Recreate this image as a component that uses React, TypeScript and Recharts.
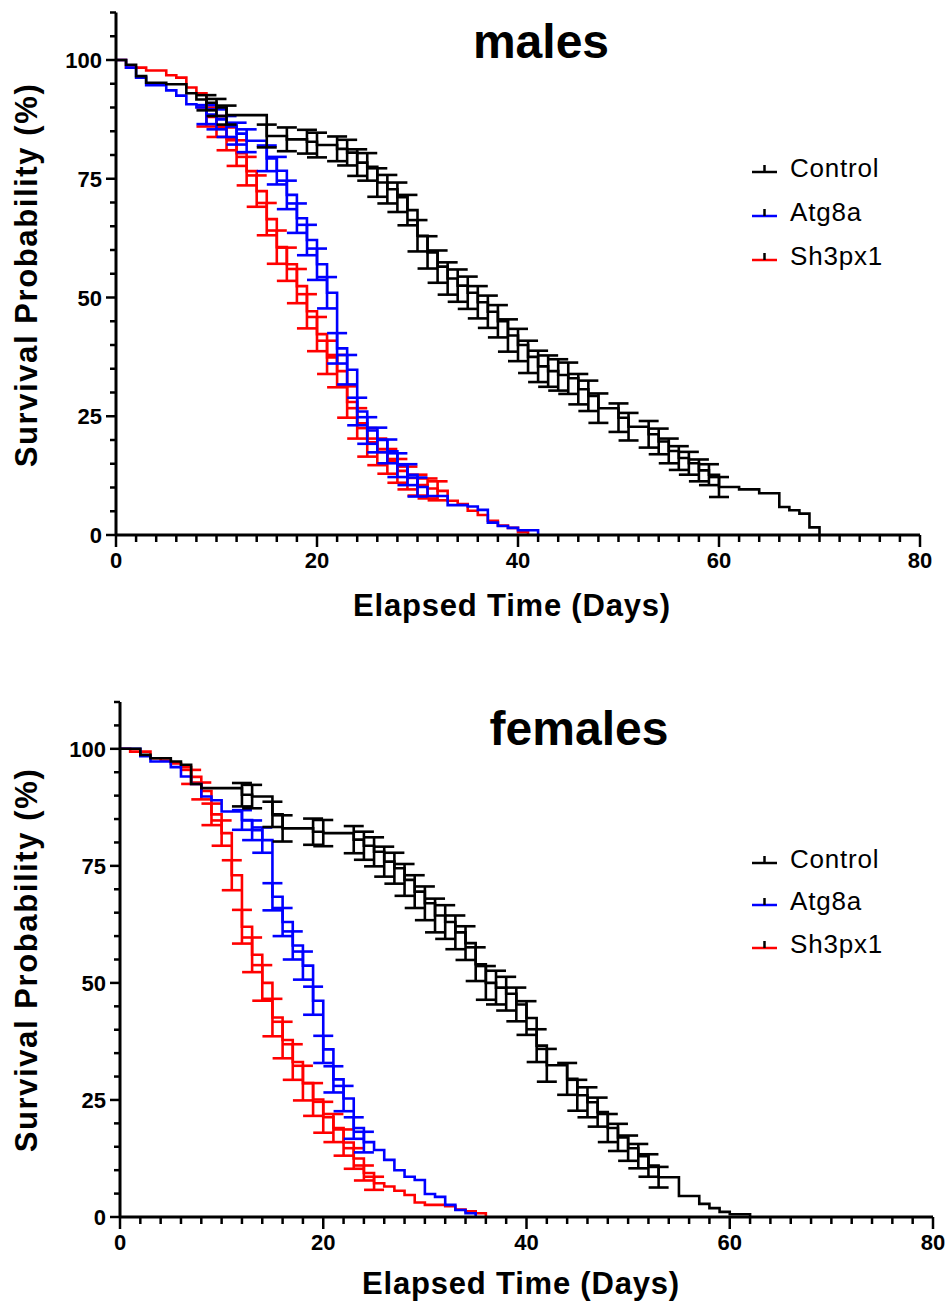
import React from 'react';
import { LineChart, Line, XAxis, YAxis, ErrorBar } from 'recharts';

const seriesNames = ['Control', 'Atg8a', 'Sh3px1'];
const seriesColors = ['#000000', '#0000ff', '#ff0000'];

const xTicks = [0, 2, 4, 6, 8, 10, 12, 14, 16, 18, 20, 22, 24, 26, 28, 30, 32, 34, 36, 38, 40, 42, 44, 46, 48, 50, 52, 54, 56, 58, 60, 62, 64, 66, 68, 70, 72, 74, 76, 78, 80];
const xMajor = [0, 20, 40, 60, 80];
const yTicks = [0, 5, 10, 15, 20, 25, 30, 35, 40, 45, 50, 55, 60, 65, 70, 75, 80, 85, 90, 95, 100, 105, 110];
const yMajor = [0, 25, 50, 75, 100];

// males
const maleControlDays = [0, 1, 2, 3, 5, 7, 8, 9, 10, 11, 15, 17, 19, 20, 22, 23, 24, 25, 26, 27, 28, 29, 30, 31, 32, 33, 34, 35, 36, 37, 38, 39, 40, 41, 42, 43, 44, 45, 46, 47, 48, 50, 51, 53, 54, 55, 56, 57, 58, 59, 60, 62, 64, 66, 67, 68, 69, 70];
const maleControlSurv = [100, 99, 96.6, 95.2, 94.9, 93, 91.7, 91, 90, 88.4, 84, 83.3, 82.8, 82.1, 81.3, 80.5, 78.4, 77.5, 74.2, 72.8, 71.1, 68.4, 63, 59.5, 56.5, 54, 52.5, 51, 49, 47, 45, 42, 40, 37.5, 35.5, 34.5, 33.7, 33, 30.7, 29.3, 26.7, 24.7, 22.8, 21.2, 19.7, 17.7, 16.2, 15.1, 13.6, 12.7, 10.1, 9.6, 8.8, 5.9, 5.2, 4.5, 1.6, 0];
const maleControlSem = [null, null, null, null, null, null, null, 1.6, 1.8, 2.0, 2.4, 2.5, 2.5, 2.6, 2.6, 2.7, 2.8, 2.9, 3.0, 3.0, 3.1, 3.2, 3.3, 3.4, 3.4, 3.4, 3.4, 3.4, 3.4, 3.4, 3.4, 3.4, 3.4, 3.4, 3.3, 3.3, 3.3, 3.3, 3.2, 3.2, 3.1, 3.0, 2.9, 2.8, 2.7, 2.6, 2.5, 2.4, 2.3, 2.2, 2.1, null, null, null, null, null, null, null];

const maleAtg8aDays = [0, 1, 2, 3, 5, 6, 7, 8, 9, 10, 11, 12, 13, 15, 16, 17, 18, 19, 20, 21, 22, 23, 24, 25, 26, 27, 28, 29, 30, 31, 33, 35, 36, 37, 38, 39, 40, 42];
const maleAtg8aSurv = [100, 98.4, 96.3, 94.7, 93.6, 92.5, 90.7, 90, 88.5, 87.5, 86, 84.5, 83, 79.3, 76.7, 71.6, 66.7, 62.1, 57, 51, 39.3, 34.8, 26, 22, 20, 17.6, 14.7, 12.7, 10.1, 8.2, 6.3, 6.0, 5.3, 2.6, 1.9, 1.5, 1.0, 0];
const maleAtg8aSem = [null, null, null, null, null, null, null, null, 2.0, 2.1, 2.2, 2.3, 2.4, 2.7, 2.9, 3.0, 3.1, 3.2, 3.3, 3.3, 3.2, 3.1, 2.9, 2.8, 2.6, 2.5, 2.5, 2.2, 2.0, null, null, null, null, null, null, null, null, null];

const maleSh3px1Days = [0, 1, 3, 5, 6, 7, 8, 9, 10, 11, 12, 13, 14, 15, 16, 17, 18, 19, 20, 21, 22, 23, 24, 25, 26, 27, 28, 29, 30, 31, 32, 33, 34, 35, 36, 37, 38, 39, 40, 41];
const maleSh3px1Surv = [100, 98.4, 97.8, 96.8, 96.3, 94.2, 93, 88, 86, 83.4, 80.4, 76.6, 72.4, 66.5, 60.6, 57, 52.4, 47.1, 42.3, 37.4, 34.5, 28, 23.5, 19.5, 17.5, 15.5, 13.5, 12, 10.5, 9.8, 9.3, 7.2, 6.5, 5.1, 4.2, 3.0, 2.0, 1.5, 0.6, 0];
const maleSh3px1Sem = [null, null, null, null, null, null, null, 2.0, 2.2, 2.4, 2.7, 3.0, 3.3, 3.4, 3.5, 3.5, 3.6, 3.6, 3.6, 3.5, 3.4, 3.3, 3.2, 3.0, 2.8, 2.6, 2.5, 2.4, 2.2, 2.1, 2.0, null, null, null, null, null, null, null, null, null];

// females
const femaleControlDays = [0, 2, 3, 5, 6, 7, 8, 12, 13, 15, 16, 19, 20, 23, 24, 25, 26, 27, 28, 29, 30, 31, 32, 33, 34, 35, 36, 37, 38, 39, 40, 41, 42, 44, 45, 46, 47, 48, 49, 50, 51, 52, 53, 55, 57, 58, 59, 60, 62];
const femaleControlSurv = [100, 98.7, 98, 97.3, 96.6, 92.5, 91.6, 90.2, 89.8, 86, 83, 82.3, 82, 80.6, 79.3, 78, 75.9, 74.5, 72, 69.5, 67, 64.4, 63, 60.8, 58.5, 54, 50, 49, 47.7, 45.4, 42.5, 36.6, 32.4, 29.5, 26, 24.5, 22.4, 19, 17, 14.7, 13, 11, 8.5, 4.5, 2.8, 1.9, 1.1, 0.6, 0];
const femaleControlSem = [null, null, null, null, null, null, null, 2.5, 2.5, 2.7, 2.8, 2.8, 2.8, 2.9, 3.0, 3.1, 3.2, 3.3, 3.4, 3.5, 3.6, 3.6, 3.6, 3.6, 3.6, 3.6, 3.6, 3.6, 3.6, 3.6, 3.6, 3.5, 3.5, 3.4, 3.3, 3.2, 3.1, 3.0, 2.9, 2.7, 2.6, 2.4, 2.2, null, null, null, null, null, null];

const femaleAtg8aDays = [0, 2, 3, 5, 6, 7, 8, 9, 10, 12, 13, 14, 15, 16, 17, 18, 19, 20, 21, 22, 23, 24, 25, 26, 27, 28, 29, 30, 31, 32, 33, 34, 35];
const femaleAtg8aSurv = [100, 98.4, 97.3, 96.1, 94.1, 92.5, 89.8, 89, 86.6, 84.8, 82.6, 80.5, 68.4, 63, 58, 53.7, 46.2, 35.8, 29.4, 25.3, 19, 16, 14.3, 12.2, 10, 8.6, 7.9, 4.9, 4.3, 2.6, 1.5, 0.8, 0];
const femaleAtg8aSem = [null, null, null, null, null, null, null, null, null, 2.1, 2.1, 2.7, 2.9, 3.0, 3.0, 3.0, 3.0, 2.9, 2.8, 2.7, 2.3, 2.2, null, null, null, null, null, null, null, null, null, null, null];

const femaleSh3px1Days = [0, 1, 3, 4, 5, 6, 7, 8, 9, 10, 11, 12, 13, 14, 15, 16, 17, 18, 19, 20, 21, 22, 23, 24, 25, 26, 27, 28, 29, 30, 32, 33, 34, 35, 36];
const femaleSh3px1Surv = [100, 99.4, 98, 97.5, 96.9, 96.1, 94, 91, 86, 82, 73, 62, 56, 50, 42.6, 37.8, 33.1, 28.6, 25.1, 21.3, 19, 15.9, 12.5, 9.4, 7.2, 6.5, 5.6, 4.7, 3.1, 2.6, 2.3, 1.6, 1.2, 0.8, 0];
const femaleSh3px1Sem = [null, null, null, null, null, null, 1.5, 1.8, 2.3, 2.7, 3.2, 3.6, 3.7, 3.8, 4.0, 3.9, 3.8, 3.7, 3.5, 3.3, 3.0, 2.8, 2.2, 1.6, 1.4, null, null, null, null, null, null, null, null, null, null];

const FONT = '"Liberation Sans", Arial, sans-serif';

function toPoints(days: number[], surv: number[], sem: (number | null)[]) {
  return days.map((day, i) => ({ day, surv: surv[i], sem: sem[i] }));
}

const maleSeries = [
  toPoints(maleControlDays, maleControlSurv, maleControlSem),
  toPoints(maleAtg8aDays, maleAtg8aSurv, maleAtg8aSem),
  toPoints(maleSh3px1Days, maleSh3px1Surv, maleSh3px1Sem),
];
const femaleSeries = [
  toPoints(femaleControlDays, femaleControlSurv, femaleControlSem),
  toPoints(femaleAtg8aDays, femaleAtg8aSurv, femaleAtg8aSem),
  toPoints(femaleSh3px1Days, femaleSh3px1Surv, femaleSh3px1Sem),
];

function XTick(props: any) {
  const { x, y, payload } = props;
  const major = xMajor.includes(payload.value);
  return (
    <g>
      <line x1={x} x2={x} y1={y} y2={y + (major ? 12 : 7)} stroke="#000" strokeWidth={2.5} />
      {major && (
        <text x={x} y={y + 33} textAnchor="middle" fontSize={22} fontWeight={700} fontFamily={FONT} fill="#000">
          {payload.value}
        </text>
      )}
    </g>
  );
}

function YTick(props: any) {
  const { x, y, payload } = props;
  const major = yMajor.includes(payload.value);
  return (
    <g>
      <line x1={x} x2={x - (major ? 10 : 6)} y1={y} y2={y} stroke="#000" strokeWidth={2.5} />
      {major && (
        <text x={x - 14} y={y + 8} textAnchor="end" fontSize={22} fontWeight={700} fontFamily={FONT} fill="#000">
          {payload.value}
        </text>
      )}
    </g>
  );
}

type PanelProps = {
  top: number;
  height: number;
  plotLeft: number;
  plotRight: number;
  plotTop: number;
  plotBottom: number;
  title: string;
  titleX: number;
  titleY: number;
  xLabelX: number;
  xLabelY: number;
  yLabelY: number;
  legendY: number[];
  series: { day: number; surv: number; sem: number | null }[][];
};

function SurvivalPanel(p: PanelProps) {
  const xAxisHeight = 40;
  // draw Sh3px1 first and Control last so black sits on top
  const order = [2, 1, 0];
  return (
    <div style={{ position: 'absolute', left: 0, top: p.top, width: 950, height: p.height }}>
      <LineChart
        width={950}
        height={p.height}
        margin={{ top: p.plotTop, right: 950 - p.plotRight, bottom: p.height - p.plotBottom - xAxisHeight, left: 0 }}
      >
        <XAxis
          type="number"
          dataKey="day"
          domain={[0, 80]}
          ticks={xTicks}
          interval={0}
          height={xAxisHeight}
          tickSize={0}
          tickMargin={0}
          tickLine={false}
          axisLine={{ stroke: '#000', strokeWidth: 3 }}
          tick={XTick}
          allowDataOverflow
        />
        <YAxis
          type="number"
          domain={[0, 110]}
          ticks={yTicks}
          interval={0}
          width={p.plotLeft}
          tickSize={0}
          tickMargin={0}
          tickLine={false}
          axisLine={{ stroke: '#000', strokeWidth: 3 }}
          tick={YTick}
          allowDataOverflow
        />
        {order.map((i) => (
          <Line
            key={seriesNames[i]}
            data={p.series[i]}
            dataKey="surv"
            name={seriesNames[i]}
            type="stepAfter"
            stroke={seriesColors[i]}
            strokeWidth={2.6}
            dot={false}
            activeDot={false}
            isAnimationActive={false}
          >
            <ErrorBar dataKey="sem" direction="y" width={10} stroke={seriesColors[i]} strokeWidth={2.6} isAnimationActive={false} />
          </Line>
        ))}
      </LineChart>
      <svg
        width={950}
        height={p.height}
        style={{ position: 'absolute', left: 0, top: 0, pointerEvents: 'none', overflow: 'visible' }}
      >
        <text x={p.titleX} y={p.titleY} textAnchor="middle" fontSize={48} fontWeight={700} fontFamily={FONT}>
          {p.title}
        </text>
        <text x={p.xLabelX} y={p.xLabelY} textAnchor="middle" fontSize={31} fontWeight={700} fontFamily={FONT} letterSpacing={0.8}>
          Elapsed Time (Days)
        </text>
        <text
          transform={`translate(37, ${p.yLabelY}) rotate(-90)`}
          textAnchor="middle"
          fontSize={31}
          fontWeight={700}
          fontFamily={FONT}
          letterSpacing={1.6}
        >
          Survival Probability (%)
        </text>
        {seriesNames.map((name, i) => {
          const by = p.legendY[i];
          return (
            <g key={name}>
              <line x1={752} x2={777} y1={by - 5} y2={by - 5} stroke={seriesColors[i]} strokeWidth={2.5} />
              <line x1={764.5} x2={764.5} y1={by - 12} y2={by - 5} stroke="#000" strokeWidth={2.5} />
              <text x={790} y={by} fontSize={26} fontFamily={FONT} letterSpacing={0.8}>
                {name}
              </text>
            </g>
          );
        })}
      </svg>
    </div>
  );
}

export default function App() {
  return (
    <div style={{ position: 'absolute', left: 0, top: 0, width: 950, height: 1302, background: '#fff' }}>
      <SurvivalPanel
        top={0}
        height={650}
        plotLeft={116}
        plotRight={920}
        plotTop={12.5}
        plotBottom={535}
        title="males"
        titleX={541}
        titleY={58}
        xLabelX={512}
        xLabelY={616}
        yLabelY={275}
        legendY={[177, 221, 265]}
        series={maleSeries}
      />
      <SurvivalPanel
        top={650}
        height={652}
        plotLeft={120}
        plotRight={933}
        plotTop={52}
        plotBottom={567}
        title="females"
        titleX={579}
        titleY={95}
        xLabelX={521}
        xLabelY={644}
        yLabelY={310}
        legendY={[218, 260, 303]}
        series={femaleSeries}
      />
    </div>
  );
}
